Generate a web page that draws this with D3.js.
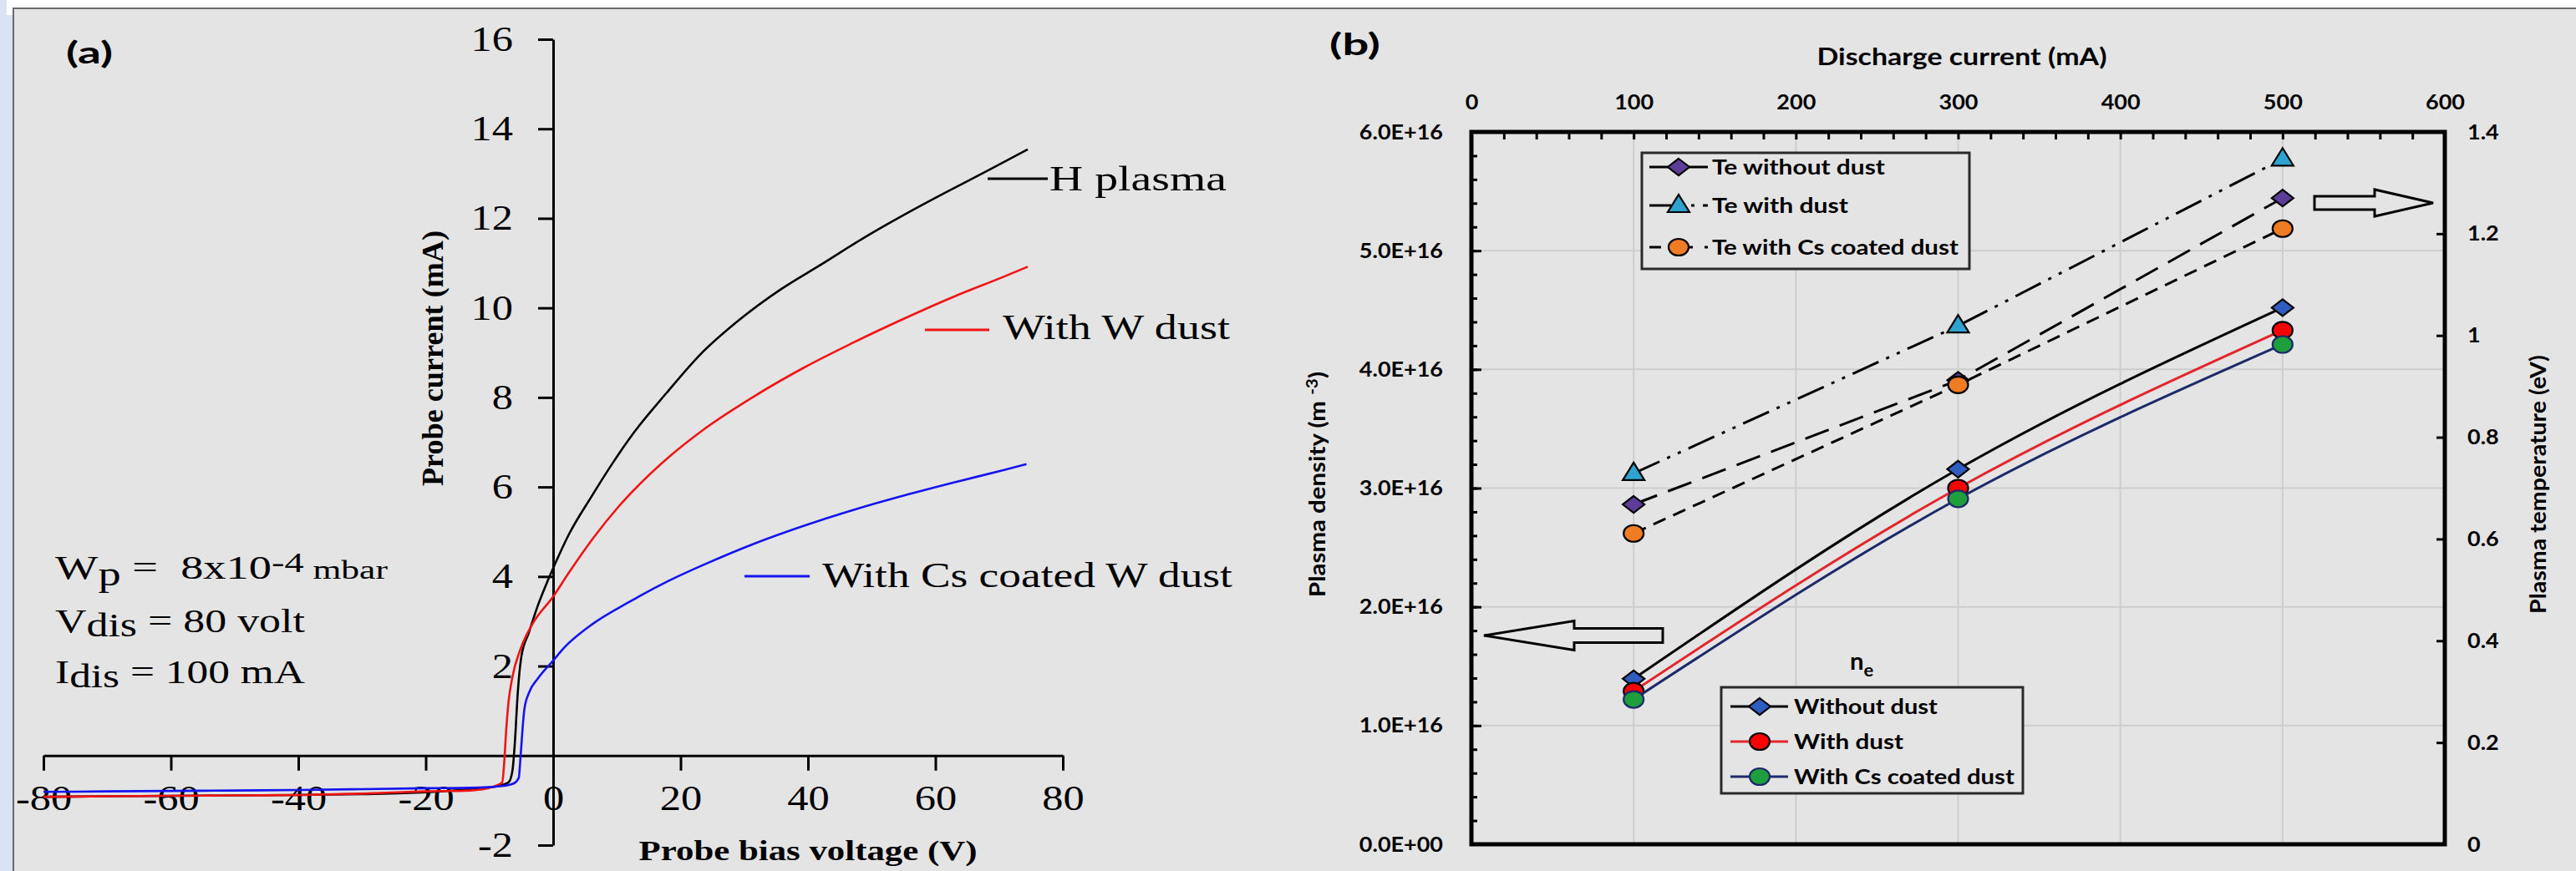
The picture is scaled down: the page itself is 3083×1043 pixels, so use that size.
<!DOCTYPE html>
<html>
<head>
<meta charset="utf-8">
<script src="https://cdn.jsdelivr.net/npm/d3@7"></script>
<style>
  body { margin: 0; background: #fff; }
  svg { display: block; }
  text { white-space: pre; }
</style>
</head>
<body>
<svg id="fig" width="3083" height="1043"></svg>
<script>
// ---- panel (a): probe I-V characteristics, [bias V, current mA]
var hPlasma = [[-80,-0.92],[-70,-0.91],[-60,-0.9],[-50,-0.89],[-40,-0.88],[-30,-0.86],[-20,-0.82],[-13,-0.75],[-9,-0.69],[-7,-0.6],
  [-6.4,-0.35],[-6.0,0.3],[-5.6,1.3],[-5.0,2.2],[-3.8,2.75],[-2.4,3.35],[-0.8,3.92],[0.3,4.28],[2.4,4.92],[6,5.78],[9.1,6.48],
  [12.6,7.2],[17.8,8.1],[22.9,8.93],[29.3,9.74],[35.8,10.42],[42.2,10.98],[48.6,11.55],[55.1,12.08],[61.5,12.57],[68,13.05],[74.5,13.54]];
var wDust = [[-80,-0.92],[-70,-0.91],[-60,-0.9],[-50,-0.89],[-40,-0.88],[-30,-0.85],[-20,-0.8],[-13,-0.78],[-9.5,-0.7],[-8.0,-0.6],
  [-7.7,-0.2],[-7.4,0.5],[-7.0,1.2],[-6.4,1.75],[-5.2,2.35],[-3.2,2.95],[0,3.55],[2.4,4.07],[6.3,4.86],[10.2,5.55],[14.2,6.15],
  [18.1,6.66],[23.6,7.28],[31.5,8.02],[39.3,8.66],[47.2,9.23],[55.1,9.76],[62.9,10.25],[70.8,10.7],[74.5,10.92]];
var csDust = [[-80,-0.81],[-70,-0.8],[-60,-0.79],[-50,-0.78],[-40,-0.77],[-30,-0.75],[-20,-0.73],[-13,-0.72],[-8,-0.68],[-6.3,-0.63],
  [-5.4,-0.5],[-5.1,0.0],[-4.8,0.6],[-4.5,1.05],[-3.8,1.4],[-2.4,1.72],[0,2.12],[1.6,2.39],[6.3,2.95],[11.8,3.42],[18.1,3.9],
  [23.6,4.26],[31.5,4.73],[39.3,5.13],[47.2,5.49],[55.1,5.81],[62.9,6.1],[70.8,6.38],[74.3,6.51]];
var aXTicks = [-80, -60, -40, -20, 0, 20, 40, 60, 80];
var aYTicks = [-2, 2, 4, 6, 8, 10, 12, 14, 16];

// ---- panel (b): density and temperature vs discharge current
var current = [100, 300, 500];
var teWithout = [0.668, 0.912, 1.27];
var teWith = [0.729, 1.019, 1.347];
var teCs = [0.611, 0.903, 1.21];
var neWithout = [1.394e16, 3.16e16, 4.52e16];
var neWith = [1.29e16, 3.0e16, 4.33e16];
var neCs = [1.22e16, 2.91e16, 4.21e16];
var bXTicks = [0, 100, 200, 300, 400, 500, 600];
var bYLeftTicks = [0, 1e16, 2e16, 3e16, 4e16, 5e16, 6e16];
var bYRightTicks = [0, 0.2, 0.4, 0.6, 0.8, 1, 1.2, 1.4];

var serif = "'Liberation Serif', 'Times New Roman', serif",
    sans = "Lato, 'Liberation Sans', sans-serif",
    bg = "#e4e4e4";

var svg = d3.select("#fig");

// page background, blue strip and frame
svg.append("rect").attr("x", 0).attr("y", 0).attr("width", 8).attr("height", 1043).attr("fill", "#dae3f3");
svg.append("rect").attr("x", 8).attr("y", 18).attr("width", 8).attr("height", 1025).attr("fill", "#dae3f3");
svg.append("rect").attr("x", 16).attr("y", 10).attr("width", 3100).attr("height", 1100)
    .attr("fill", bg).attr("stroke", "#6a6a6a").attr("stroke-width", 2);

// puts a text at x,y and squeezes / stretches it horizontally
function place(t, x, y, o) {
  var s = o.sx || 1;
  if (o.w) s = o.w / t.node().getComputedTextLength();
  t.attr("transform", "translate(" + x + "," + y + ")" + (o.rot ? " rotate(" + o.rot + ")" : "") + " scale(" + s + ",1)");
  return t;
}
function txt(parent, x, y, str, o) {
  var t = parent.append("text")
      .attr("font-family", o.family)
      .attr("font-size", o.size)
      .attr("font-weight", o.weight || "normal")
      .attr("text-anchor", o.anchor || "start")
      .attr("fill", "#000")
      .text(str);
  return place(t, x, y, o);
}
function stretch(sel, s) {
  sel.each(function() {
    var t = d3.select(this);
    var x = +t.attr("x") || 0, y = +t.attr("y") || 0;
    t.attr("x", null).attr("y", null)
      .attr("transform", "translate(" + x + "," + y + ") scale(" + s + ",1)");
  });
}

// =================== panel (a) ===================
var ga = svg.append("g");
var xa = d3.scaleLinear().domain([-80, 80]).range([52, 1272]),
    ya = d3.scaleLinear().domain([-2, 16]).range([1012, 47]);

var axA = ga.append("g")
    .attr("transform", "translate(0," + ya(0) + ")")
    .call(d3.axisBottom(xa).tickValues(aXTicks).tickSizeInner(18).tickSizeOuter(0).tickPadding(17)
      .tickFormat(function(d) { return String(d); }));
var ayA = ga.append("g")
    .attr("transform", "translate(" + xa(0) + ",0)")
    .call(d3.axisLeft(ya).tickValues(aYTicks).tickSizeInner(18).tickSizeOuter(0).tickPadding(30)
      .tickFormat(function(d) { return String(d); }));
[axA, ayA].forEach(function(a) {
  a.select(".domain").attr("stroke", "#000").attr("stroke-width", 3);
  a.selectAll(".tick line").attr("stroke", "#000").attr("stroke-width", 3);
  a.selectAll(".tick text").attr("font-family", serif).attr("font-size", 42).attr("fill", "#000");
  stretch(a.selectAll(".tick text"), 1.2);
});

var lineA = d3.line().x(function(d) { return xa(d[0]); }).y(function(d) { return ya(d[1]); })
    .curve(d3.curveMonotoneX);
[[hPlasma, "#000000"], [wDust, "#f01414"], [csDust, "#1414f0"]].forEach(function(s) {
  ga.append("path").datum(s[0]).attr("d", lineA)
    .attr("fill", "none").attr("stroke", s[1]).attr("stroke-width", 2.6);
});

// curve labels
var aLabels = [
  {name: "H plasma", color: "#000000", x1: 1182, x2: 1254, ly: 214, tx: 1256, ty: 228, w: 212},
  {name: "With W dust", color: "#f01414", x1: 1107, x2: 1184, ly: 395, tx: 1200, ty: 406, w: 272},
  {name: "With Cs coated W dust", color: "#1414f0", x1: 891, x2: 969, ly: 690, tx: 984, ty: 703, w: 491}
];
aLabels.forEach(function(l) {
  ga.append("line").attr("x1", l.x1).attr("x2", l.x2).attr("y1", l.ly).attr("y2", l.ly)
    .attr("stroke", l.color).attr("stroke-width", 3);
  txt(ga, l.tx, l.ty, l.name, {family: serif, size: 42, w: l.w});
});

// operating conditions
function cond(parts, x, y, w) {
  var t = ga.append("text").attr("font-family", serif).attr("font-size", 40).attr("fill", "#000");
  parts.forEach(function(p) {
    var ts = t.append("tspan").text(p[0]);
    if (p[1]) ts.attr("font-size", p[1]);
    if (p[2]) ts.attr("dy", p[2]);
  });
  return place(t, x, y, {w: w});
}
cond([["W"], ["p", 40, 8], [" =  8x10", 40, -8], ["-4", 34, -8], [" mbar", 32, 8]], 66, 693, 398);
cond([["V"], ["dis", 40, 5], [" = 80 volt", 40, -5]], 66, 757, 299);
cond([["I"], ["dis", 40, 5], [" = 100 mA", 40, -5]], 66, 818, 299);

txt(ga, 530, 429, "Probe current (mA)", {family: serif, size: 36, weight: "bold", anchor: "middle", rot: -90, w: 306});
txt(ga, 967, 1030, "Probe bias voltage (V)", {family: serif, size: 34, weight: "bold", anchor: "middle", w: 405});
txt(ga, 79, 76, "(a)", {family: sans, size: 36, weight: "bold", w: 56});

// =================== panel (b) ===================
var gb = svg.append("g");
var xb = d3.scaleLinear().domain([0, 600]).range([1761, 2926]),
    ybL = d3.scaleLinear().domain([0, 6e16]).range([1011, 158]),
    ybR = d3.scaleLinear().domain([0, 1.4]).range([1011, 158]);

// grid
gb.selectAll(".vgrid").data(bXTicks.slice(1, -1)).enter().append("line")
    .attr("x1", xb).attr("x2", xb).attr("y1", ybL(0)).attr("y2", ybL(6e16))
    .attr("stroke", "#cdcdcd").attr("stroke-width", 2);
gb.selectAll(".hgrid").data(bYLeftTicks.slice(1, -1)).enter().append("line")
    .attr("y1", ybL).attr("y2", ybL).attr("x1", xb(0)).attr("x2", xb(600))
    .attr("stroke", "#cdcdcd").attr("stroke-width", 2);

var minorX = d3.range(0, 31).map(function(i) { return i * 20; }),
    minorL = d3.range(0, 31).map(function(i) { return i * 0.2e16; });
var fmtE = function(d) { return d === 0 ? "0.0E+00" : (d / 1e16).toFixed(1) + "E+16"; },
    fmtR = function(d) { return String(+d.toFixed(1)); };

var axes = [
  gb.append("g").attr("transform", "translate(0," + ybL(6e16) + ")")
    .call(d3.axisTop(xb).tickValues(minorX).tickSizeInner(-9).tickSizeOuter(0).tickFormat("")),
  gb.append("g").attr("transform", "translate(0," + ybL(6e16) + ")")
    .call(d3.axisTop(xb).tickValues(bXTicks).tickSize(0).tickPadding(27).tickFormat(d3.format("d"))),
  gb.append("g").attr("transform", "translate(" + xb(0) + ",0)")
    .call(d3.axisLeft(ybL).tickValues(minorL).tickSizeInner(-7).tickSizeOuter(0).tickFormat("")),
  gb.append("g").attr("transform", "translate(" + xb(0) + ",0)")
    .call(d3.axisLeft(ybL).tickValues(bYLeftTicks).tickSizeInner(-12).tickSizeOuter(0).tickPadding(34).tickFormat(fmtE)),
  gb.append("g").attr("transform", "translate(" + xb(600) + ",0)")
    .call(d3.axisRight(ybR).tickValues(bYRightTicks).tickSizeInner(-10).tickSizeOuter(0).tickPadding(27).tickFormat(fmtR))
];
axes.forEach(function(a) {
  a.select(".domain").remove();
  a.selectAll(".tick line").attr("stroke", "#000").attr("stroke-width", 3);
  a.selectAll(".tick text").attr("font-family", sans).attr("font-size", 25).attr("font-weight", "bold").attr("fill", "#000");
  stretch(a.selectAll(".tick text"), 1.08);
});
gb.append("rect").attr("x", xb(0)).attr("y", ybL(6e16))
    .attr("width", xb(600) - xb(0)).attr("height", ybL(0) - ybL(6e16))
    .attr("fill", "none").attr("stroke", "#000").attr("stroke-width", 5);

// series styles
var teSeries = [
  {name: "Te without dust", vals: teWithout, dash: "30,14", marker: "diamond", fill: "#5e3d99", w: 207},
  {name: "Te with dust", vals: teWith, dash: "34,10,4,10,4,10", marker: "triangle", fill: "#2ea3cf", w: 163},
  {name: "Te with Cs coated dust", vals: teCs, dash: "16,10", marker: "circle", fill: "#ef7b22", w: 295}
];
var neSeries = [
  {name: "Without dust", vals: neWithout, color: "#000000", marker: "diamond", fill: "#2f5cbf", stroke: "#000", w: 172},
  {name: "With dust", vals: neWith, color: "#e3262b", marker: "circle", fill: "#ff0000", stroke: "#000", w: 131},
  {name: "With Cs coated dust", vals: neCs, color: "#1d2a6a", marker: "circle", fill: "#1f9e3c", stroke: "#1d2a6a", w: 264}
];

function marker(g, type, x, y, fill, stroke) {
  var m;
  if (type === "circle") {
    m = g.append("ellipse").attr("cx", x).attr("cy", y).attr("rx", 12).attr("ry", 10);
  } else if (type === "diamond") {
    m = g.append("path").attr("d", "M" + x + "," + (y - 10) + "l13,10l-13,10l-13,-10z");
  } else {
    m = g.append("path").attr("d", "M" + x + "," + (y - 13) + "l13,21h-26z");
  }
  m.attr("fill", fill).attr("stroke", stroke || "#000").attr("stroke-width", 2.2);
}

var neLine = d3.line().x(function(d, i) { return xb(current[i]); }).y(function(d) { return ybL(d); })
    .curve(d3.curveMonotoneX);
neSeries.forEach(function(s) {
  gb.append("path").datum(s.vals).attr("d", neLine)
    .attr("fill", "none").attr("stroke", s.color).attr("stroke-width", 3);
  s.vals.forEach(function(v, i) { marker(gb, s.marker, xb(current[i]), ybL(v), s.fill, s.stroke); });
});
var teLine = d3.line().x(function(d, i) { return xb(current[i]); }).y(function(d) { return ybR(d); });
teSeries.forEach(function(s) {
  gb.append("path").datum(s.vals).attr("d", teLine)
    .attr("fill", "none").attr("stroke", "#000").attr("stroke-width", 3).attr("stroke-dasharray", s.dash);
  s.vals.forEach(function(v, i) { marker(gb, s.marker, xb(current[i]), ybR(v), s.fill); });
});

// legend for Te
gb.append("rect").attr("x", 1965).attr("y", 183).attr("width", 392).attr("height", 139)
    .attr("fill", bg).attr("stroke", "#2a2a2a").attr("stroke-width", 3);
teSeries.forEach(function(s, i) {
  var y = [200, 246, 296][i];
  gb.append("line").attr("x1", 1974).attr("x2", 2044).attr("y1", y).attr("y2", y)
    .attr("stroke", "#000").attr("stroke-width", 3)
    .attr("stroke-dasharray", i === 0 ? null : (i === 1 ? "26,10,4,10,4,10" : "14,24,14"));
  marker(gb, s.marker, 2009, y, s.fill);
  txt(gb, 2049, y + 9, s.name, {family: sans, size: 25, weight: "bold", w: s.w});
});

// legend for ne
var neTitle = gb.append("text").attr("font-family", sans).attr("font-size", 28).attr("font-weight", "bold");
neTitle.append("tspan").text("n");
neTitle.append("tspan").attr("font-size", 21).attr("dy", 8).text("e");
place(neTitle, 2214, 802, {sx: 1.05});
gb.append("rect").attr("x", 2060).attr("y", 823).attr("width", 361).attr("height", 127)
    .attr("fill", bg).attr("stroke", "#2a2a2a").attr("stroke-width", 3);
neSeries.forEach(function(s, i) {
  var y = [846, 888, 930][i];
  gb.append("line").attr("x1", 2071).attr("x2", 2140).attr("y1", y).attr("y2", y)
    .attr("stroke", s.color).attr("stroke-width", 3);
  marker(gb, s.marker, 2106, y, s.fill, s.stroke);
  txt(gb, 2147, y + 9, s.name, {family: sans, size: 25, weight: "bold", w: s.w});
});

// hollow arrows pointing to the axes
gb.append("path")
    .attr("d", "M1776,761L1884,743.5V752.5H1990V769.5H1884V778.5Z")
    .attr("fill", bg).attr("stroke", "#000").attr("stroke-width", 3);
gb.append("path")
    .attr("d", "M2912,243L2842,227V235H2770V251H2842V259Z")
    .attr("fill", bg).attr("stroke", "#000").attr("stroke-width", 3);

// titles
txt(gb, 1591, 66, "(b)", {family: sans, size: 36, weight: "bold", w: 61});
txt(gb, 2348, 78, "Discharge current (mA)", {family: sans, size: 28, weight: "bold", anchor: "middle", w: 347});
var yt = gb.append("text").attr("font-family", sans).attr("font-size", 27).attr("font-weight", "bold")
    .attr("text-anchor", "middle");
yt.append("tspan").text("Plasma density (m ");
yt.append("tspan").attr("font-size", 19).attr("dy", -9).text("-3");
yt.append("tspan").attr("dy", 9).text(")");
place(yt, 1586, 580, {rot: -90, w: 270});
txt(gb, 3047, 580, "Plasma temperature (eV)", {family: sans, size: 27, weight: "bold", anchor: "middle", rot: -90, w: 310});
</script>
</body>
</html>
